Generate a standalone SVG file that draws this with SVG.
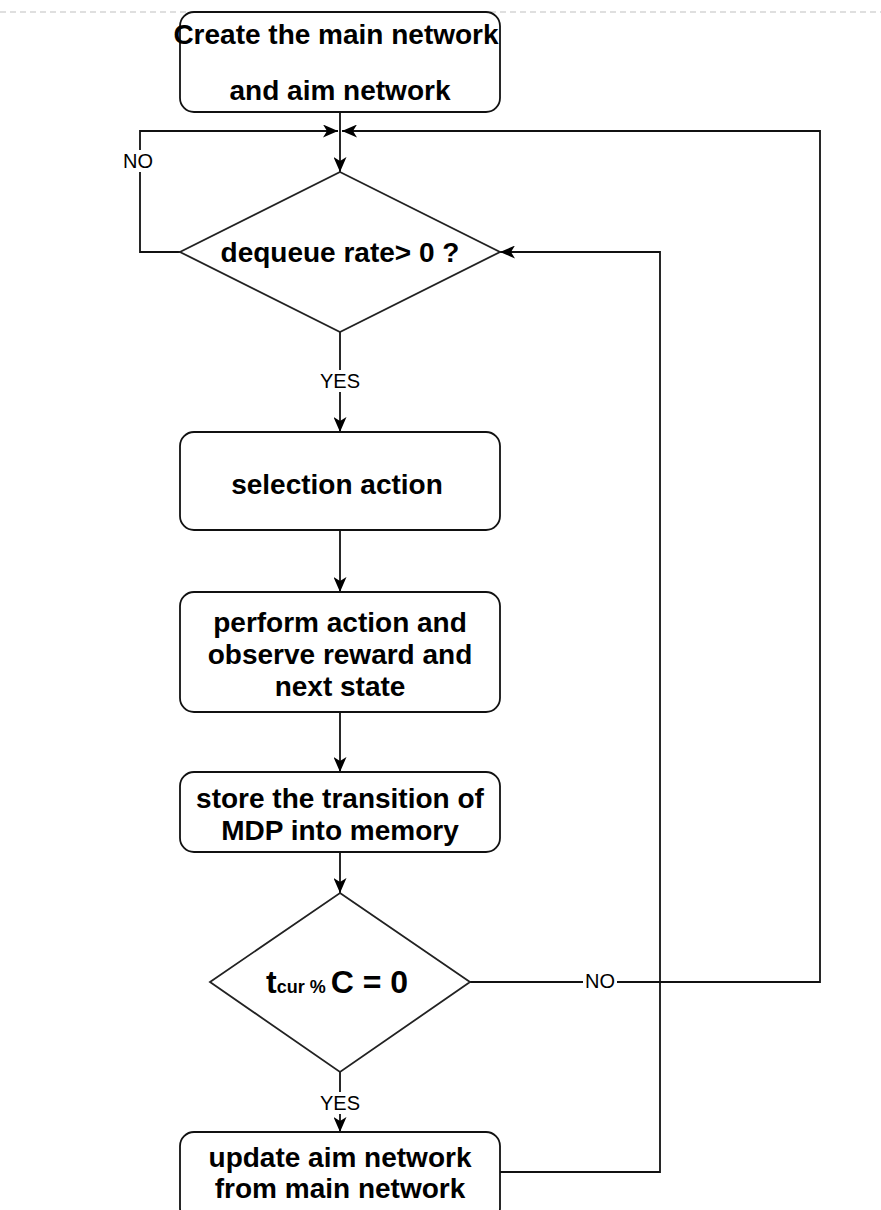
<svg xmlns="http://www.w3.org/2000/svg" width="881" height="1210" viewBox="0 0 881 1210">
<defs>
<style>
.box{fill:#fff;stroke:#111;stroke-width:1.8}
.dia{fill:#fff;stroke:#222;stroke-width:1.8}
.edge{fill:none;stroke:#111;stroke-width:1.8}
.t{font-family:"Liberation Sans",Arial,sans-serif;font-weight:bold;font-size:28px;fill:#000;text-anchor:middle}
.lbl{font-family:"Liberation Sans",Arial,sans-serif;font-size:20px;fill:#000;text-anchor:middle}
.lb{fill:#fff}
</style>
<marker id="arr" viewBox="0 0 15 13" refX="15" refY="6.5" markerWidth="15" markerHeight="13" markerUnits="userSpaceOnUse" orient="auto">
<path d="M0,0 L15,6.5 L0,13 L4,6.5 Z" fill="#000"/>
</marker>
</defs>
<rect width="881" height="1210" fill="#fff"/>
<line x1="0" y1="12" x2="881" y2="12" stroke="#c0c0c0" stroke-width="1.2" stroke-dasharray="6,4"/>
<g id="connectors">
<line class="edge" x1="340" y1="112" x2="340" y2="172" marker-end="url(#arr)"/>
<polyline class="edge" points="180,252 140,252 140,131 338,131" marker-end="url(#arr)"/>
<polyline class="edge" points="470,982 820,982 820,131 342,131" marker-end="url(#arr)"/>
<polyline class="edge" points="500,1172 660,1172 660,252 500,252" marker-end="url(#arr)"/>
<line class="edge" x1="340" y1="332" x2="340" y2="432" marker-end="url(#arr)"/>
<line class="edge" x1="340" y1="530" x2="340" y2="592" marker-end="url(#arr)"/>
<line class="edge" x1="340" y1="712" x2="340" y2="772" marker-end="url(#arr)"/>
<line class="edge" x1="340" y1="852" x2="340" y2="893" marker-end="url(#arr)"/>
<line class="edge" x1="340" y1="1072" x2="340" y2="1132" marker-end="url(#arr)"/>
<rect class="lb" x="122" y="150" width="32" height="22"/>
<text class="lbl" x="138" y="168">NO</text>
<rect class="lb" x="318" y="370" width="44" height="22"/>
<text class="lbl" x="340" y="388">YES</text>
<rect class="lb" x="583" y="970" width="34" height="22"/>
<text class="lbl" x="600" y="988">NO</text>
<rect class="lb" x="318" y="1092" width="44" height="22"/>
<text class="lbl" x="340" y="1110">YES</text>
</g>
<g id="start">
<rect class="box" x="180" y="12" width="320" height="100" rx="14"/>
<text class="t" x="336" y="44">Create the main network</text>
<text class="t" x="340" y="100">and aim network</text>
</g>
<g id="decision1">
<polygon class="dia" points="340,172 500,252 340,332 180,252"/>
<text class="t" x="340" y="262">dequeue rate&gt; 0 ?</text>
</g>
<g id="select">
<rect class="box" x="180" y="432" width="320" height="98" rx="14"/>
<text class="t" x="337" y="494">selection action</text>
</g>
<g id="perform">
<rect class="box" x="180" y="592" width="320" height="120" rx="14"/>
<text class="t" x="340" y="632">perform action and</text>
<text class="t" x="340" y="664">observe reward and</text>
<text class="t" x="340" y="696">next state</text>
</g>
<g id="store">
<rect class="box" x="180" y="772" width="320" height="80" rx="14"/>
<text class="t" x="340" y="808">store the transition of</text>
<text class="t" x="340" y="840">MDP into memory</text>
</g>
<g id="decision2">
<polygon class="dia" points="340,893 470,982 340,1072 210,982"/>
<text class="t" x="337" y="993"><tspan font-size="32">t</tspan><tspan font-size="18">cur % </tspan><tspan font-size="32">C = 0</tspan></text>
</g>
<g id="update">
<rect class="box" x="180" y="1132" width="320" height="90" rx="14"/>
<text class="t" x="340" y="1167">update aim network</text>
<text class="t" x="340" y="1198">from main network</text>
</g>
</svg>
